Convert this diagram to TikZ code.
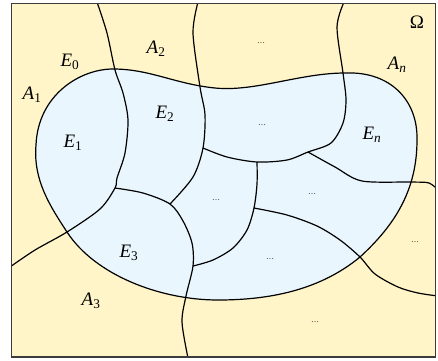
\documentclass[tikz,border=0pt]{standalone}
\usepackage{fontspec}
\setmainfont{Liberation Serif}
\usepackage{tikz}
\definecolor{outyellow}{RGB}{255, 245, 200}
\definecolor{inblue}{RGB}{234, 246, 253}
\definecolor{framegray}{RGB}{60, 60, 60}
\newcommand{\setlbl}[2]{\textit{#1}\textsubscript{#2}}
\newcommand{\blobpath}{(113,69) .. controls (150,69) and (175,84) .. (215,88)
  .. controls (255,92) and (300,73) .. (345,73)
  .. controls (390,71) and (418,100) .. (417,140)
  .. controls (417,190) and (395,225) .. (360,257)
  .. controls (320,290) and (270,300) .. (218,300)
  .. controls (160,300) and (95,275) .. (67,232)
  .. controls (50,206) and (33,180) .. (36,145)
  .. controls (38,95) and (80,69) .. cycle}
\tikzset{
  border/.style={draw=black, line width=1.2pt, line join=round},
  lbl/.style={font=\fontsize{19}{19}\selectfont},
  etc/.style={font=\fontsize{8}{8}\selectfont}
}

\begin{document}
\begin{tikzpicture}[x=1pt, y=-1pt]
  \useasboundingbox (0,0) rectangle (438,360);
  \fill[white] (0,0) rectangle (438,360);
  \fill[outyellow] (11.5,3.5) rectangle (435.5,357);

  % the set E
  \fill[inblue] \blobpath;

  \coordinate (j1) at (115,188);
  \coordinate (j2) at (170,204);
  \coordinate (j3) at (193,266);
  \coordinate (j4) at (308,152);
  \coordinate (j5) at (257,162);
  \coordinate (j6) at (203,148);
  \coordinate (j7) at (254,208);

  \begin{scope}
    \clip (11.5,3.5) rectangle (435.5,357);
    \draw[border] plot[smooth] coordinates {
        (97,2) (107,33) (115,70) (123,93) (128,120) (125,153) (117,178) (j1)
        (100,209) (67,232) (35,250) (10,267)};
    \draw[border] plot[smooth] coordinates {
        (j1) (143,193) (j2) (183,221) (192,243) (j3) (186,296) (182,322) (188,358)};
    \draw[border] plot[smooth] coordinates {
        (198,2) (193,33) (200,87) (205,115) (j6) (193,177) (j2)};
    \draw[border] plot[smooth] coordinates {
        (344,2) (337,27) (343,73) (346,100) (343,123) (331,143) (j4) (287,160)
        (j5) (227,157) (j6)};
    \draw[border] plot[smooth] coordinates {
        (j5) (257,184) (j7) (247,230) (233,248) (213,260) (j3)};
    \draw[border] plot[smooth] coordinates {
        (j7) (287,215) (317,226) (340,240) (360,257) (375,274) (398,287)
        (418,293) (438,296)};
    \draw[border] plot[smooth] coordinates {
        (j4) (335,167) (362,181) (412,182) (429,183) (438,190)};
  \end{scope}

  \draw[border] \blobpath;

  \draw[framegray, line width=1.5pt] (11.5,3.5) rectangle (435.5,357);

  \node[lbl] (omega) at (417,22) {Ω};
  \node[lbl] (a1) at (32,95) {\setlbl{A}{1}};
  \node[lbl] (a2) at (156,49) {\setlbl{A}{2}};
  \node[lbl] (a3) at (91,301) {\setlbl{A}{3}};
  \node[lbl] (an) at (397,65) {\setlbl{A}{\textit{n}}};
  \node[lbl] (e0) at (70,62) {\setlbl{E}{0}};
  \node[lbl] (e1) at (73,143) {\setlbl{E}{1}};
  \node[lbl] (e2) at (165,114) {\setlbl{E}{2}};
  \node[lbl] (e3) at (129,253) {\setlbl{E}{3}};
  \node[lbl] (en) at (372,135) {\setlbl{E}{\textit{n}}};

  \node[etc] (d1) at (261,43) {…};
  \node[etc] (d2) at (262,125) {…};
  \node[etc] (d3) at (216,200) {…};
  \node[etc] (d4) at (312,194) {…};
  \node[etc] (d5) at (270,259) {…};
  \node[etc] (d6) at (415,242) {…};
  \node[etc] (d7) at (315,322) {…};
\end{tikzpicture}
\end{document}
